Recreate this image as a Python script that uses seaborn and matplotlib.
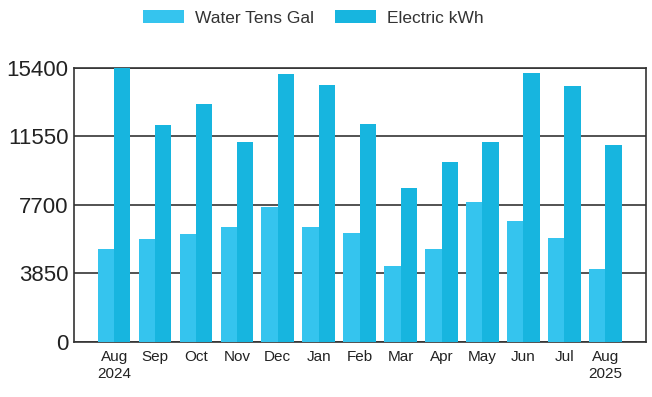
import matplotlib
matplotlib.use("Agg")
import matplotlib.pyplot as plt
import seaborn as sns
import pandas as pd

months = ["Aug\n2024", "Sep", "Oct", "Nov", "Dec", "Jan", "Feb",
          "Mar", "Apr", "May", "Jun", "Jul", "Aug\n2025"]
water_tens_gal = [5220, 5800, 6060, 6450, 7580, 6450, 6100,
                  4280, 5220, 7840, 6810, 5870, 4090]
electric_kwh = [15400, 12210, 13380, 11240, 15060, 14420, 12270,
                8650, 10130, 11240, 15130, 14370, 11050]
y_ticks = [0, 3850, 7700, 11550, 15400]

series_names = ["Water Tens Gal", "Electric kWh"]
colors = ["#35c4ee", "#17b5df"]

df = pd.DataFrame({
    "month": months * 2,
    "series": [series_names[0]] * len(months) + [series_names[1]] * len(months),
    "value": water_tens_gal + electric_kwh,
})

sns.set_style("white")
plt.rcParams["font.family"] = ["Liberation Sans", "DejaVu Sans"]

fig = plt.figure(figsize=(6.52, 3.97), dpi=100)
ax = fig.add_axes([0.1135, 0.1385, 0.8775, 0.6905])

sns.barplot(data=df, x="month", y="value", hue="series", order=months,
            hue_order=series_names, palette=colors, width=0.8,
            saturation=1, ax=ax, zorder=3, linewidth=0)

ax.set_xlim(-0.98, 13.0)
ax.set_ylim(0, 15400)
ax.set_yticks(y_ticks)
ax.set_yticklabels([str(v) for v in y_ticks], fontsize=16, color="#222222")
ax.tick_params(axis="x", labelsize=11, length=0, pad=6, colors="#222222")
ax.tick_params(axis="y", length=0, pad=4)
ax.set_xlabel("")
ax.set_ylabel("")

ax.yaxis.grid(True, color="#444444", linewidth=1.3, zorder=0)
ax.set_axisbelow(True)
for side in ["left", "right", "top", "bottom"]:
    ax.spines[side].set_visible(True)
    ax.spines[side].set_color("#333333")
    ax.spines[side].set_linewidth(1.2)

leg = ax.legend(loc="center", bbox_to_anchor=(0.48, 0.955),
                bbox_transform=fig.transFigure, ncol=2, frameon=False,
                fontsize=12.5, handlelength=2.4, handleheight=0.8,
                columnspacing=1.2, handletextpad=0.6)
for t in leg.get_texts():
    t.set_color("#333333")

fig.savefig("out.png", dpi=100)
